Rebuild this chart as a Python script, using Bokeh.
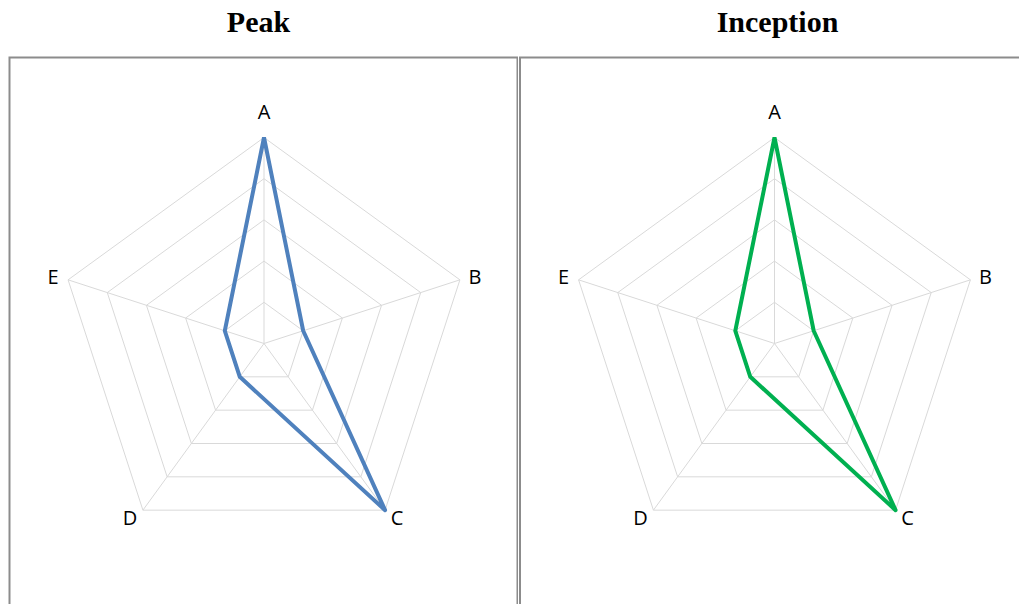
import numpy as np
from bokeh.plotting import figure
from bokeh.layouts import row
from bokeh.models import Range1d, ColumnDataSource
from bokeh.core.properties import value
from bokeh.embed import file_html
from bokeh.resources import INLINE

# ---- data ----
categories = ["A", "B", "C", "D", "E"]
peak_values = [5, 1, 5, 1, 1]
inception_values = [5, 1, 5, 1, 1]
ring_levels = [1, 2, 3, 4, 5]
titles = ["Peak", "Inception"]
series_colors = ["#4F81BD", "#00B050"]

VMAX = 5
R_PX = 206.0           # radius of outer ring in pixels
CY = 343.0             # radar centre, px below top of figure
TOTAL_H = 604
S = R_PX / VMAX        # pixels per unit

angles = [2 * np.pi * i / len(categories) for i in range(len(categories))]

label_offsets = {"A": (0, -26), "B": (15, -3), "C": (12, 7), "D": (-13, 7), "E": (-15, -3)}


def polar(vals):
    xs = [v * np.sin(a) for v, a in zip(vals, angles)]
    ys = [v * np.cos(a) for v, a in zip(vals, angles)]
    return xs, ys


def make_panel(title, vals, color, width, cx, left_px, right_px, title_px):
    p = figure(width=width, height=TOTAL_H, output_backend="svg",
               toolbar_location=None, min_border=0)
    p.x_range = Range1d(-cx / S, (width - cx) / S)
    p.y_range = Range1d(-(TOTAL_H - CY) / S, CY / S)
    p.xaxis.visible = False
    p.yaxis.visible = False
    p.grid.visible = False
    p.outline_line_color = None
    p.background_fill_color = "white"
    p.border_fill_color = "white"

    def X(px):
        return (px - cx) / S

    def Y(py):
        return (CY - py) / S

    # title
    p.text(x=[X(title_px)], y=[Y(21)], text=[title], text_align="center",
           text_baseline="alphabetic", text_font=value("Liberation Serif"),
           text_font_style="bold", text_font_size="30px", text_color="black")

    # grid rings
    for lvl in ring_levels:
        xs, ys = polar([lvl] * len(categories))
        p.line(xs + [xs[0]], ys + [ys[0]], line_color="#D9D9D9", line_width=1)
    # spokes
    oxs, oys = polar([VMAX] * len(categories))
    for x, y in zip(oxs, oys):
        p.line([0, x], [0, y], line_color="#D9D9D9", line_width=1)

    # data polygon
    xs, ys = polar(vals)
    p.line(xs + [xs[0]], ys + [ys[0]], line_color=color, line_width=4,
           line_join="round")

    # category labels
    src = ColumnDataSource(dict(x=oxs, y=oys, t=categories,
                                dx=[label_offsets[c][0] for c in categories],
                                dy=[label_offsets[c][1] for c in categories]))
    p.text(x="x", y="y", text="t", x_offset="dx", y_offset="dy", source=src,
           text_align="center", text_baseline="middle",
           text_font=value("Open Sans"), text_font_size="20px", text_color="black")

    # panel border
    xl = X(left_px)
    yt = Y(57)
    ybot = Y(TOTAL_H + 20)
    xr = X(right_px)
    if right_px < width:
        p.line([xl, xl, xr, xr], [ybot, yt, yt, ybot], line_color="#8C8C8C",
               line_width=2, line_join="miter")
    else:
        p.line([xl, xl, xr], [ybot, yt, yt], line_color="#8C8C8C",
               line_width=2, line_join="miter")
    return p


p1 = make_panel(titles[0], peak_values, series_colors[0], 518, 263.5, 9, 517, 258)
p2 = make_panel(titles[1], inception_values, series_colors[1], 501, 256, 1.5, 540, 259)
layout = row(p1, p2, spacing=0)

open("out.html", "w").write(file_html(layout, INLINE))
